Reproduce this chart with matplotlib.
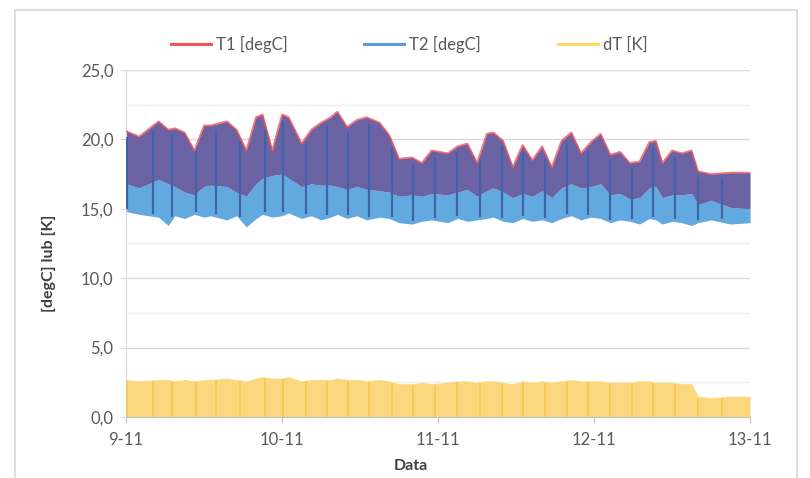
import matplotlib
matplotlib.use("Agg")
import matplotlib.pyplot as plt
from matplotlib.patches import Rectangle
from matplotlib.lines import Line2D
import numpy as np

plt.rcParams['font.family'] = ['Lato', 'DejaVu Sans']

# hours since 9-11 00:00
hours = [0, 2, 5, 6.5, 7.5, 9, 10.5, 12, 13, 15.5, 17, 18.5, 20, 21, 22.5, 24, 25, 27,
         28.5, 30, 31.5, 32.5, 34, 35.5, 37, 39, 40.5, 42, 44, 45.5, 47, 49.5, 51, 52.5,
         54, 55.5, 56.5, 58, 59.5, 61, 62.5, 64, 65.5, 67, 68.5, 70, 71.5, 73, 74.5, 76,
         77.5, 79, 80.5, 81.5, 82.5, 84, 85.5, 87, 88, 90, 93, 96]

# upper envelope of T1
t1_max = [20.6, 20.2, 21.3, 20.7, 20.8, 20.5, 19.2, 21.0, 21.0, 21.3, 20.7, 19.2, 21.6, 21.8,
          19.2, 21.8, 21.6, 19.7, 20.7, 21.2, 21.6, 22.0, 20.9, 21.4, 21.6, 21.2, 20.3, 18.6,
          18.7, 18.3, 19.2, 19.0, 19.5, 19.7, 18.3, 20.4, 20.5, 19.9, 18.0, 19.6, 18.5, 19.5,
          18.0, 19.9, 20.5, 19.0, 19.8, 20.4, 18.9, 19.1, 18.3, 18.4, 19.8, 19.9, 18.3, 19.2,
          19.0, 19.2, 17.7, 17.5, 17.6, 17.6]

# upper / lower envelope of T2
t2_max = [16.8, 16.5, 17.1, 16.8, 16.6, 16.2, 16.0, 16.6, 16.7, 16.6, 16.2, 15.9, 16.8, 17.2,
          17.4, 17.5, 17.2, 16.6, 16.8, 16.7, 16.7, 16.6, 16.4, 16.6, 16.4, 16.3, 16.2, 15.9,
          16.0, 15.9, 16.1, 16.0, 16.2, 16.4, 15.9, 16.3, 16.5, 16.2, 15.8, 16.1, 15.9, 16.3,
          15.8, 16.5, 16.8, 16.5, 16.6, 16.8, 16.0, 16.1, 15.7, 15.8, 16.5, 16.6, 15.8, 16.0,
          16.0, 16.1, 15.3, 15.6, 15.1, 15.0]
t2_min = [14.8, 14.6, 14.4, 13.8, 14.5, 14.3, 14.6, 14.4, 14.5, 14.2, 14.5, 13.7, 14.3, 14.6,
          14.4, 14.5, 14.7, 14.3, 14.5, 14.2, 14.4, 14.6, 14.3, 14.5, 14.2, 14.4, 14.3, 14.0,
          13.9, 14.1, 14.2, 14.0, 14.3, 14.1, 14.2, 14.3, 14.4, 14.1, 14.0, 14.3, 14.1, 14.2,
          14.0, 14.3, 14.5, 14.2, 14.4, 14.3, 14.0, 14.2, 14.1, 13.9, 14.3, 14.2, 13.9, 14.1,
          14.0, 13.8, 14.0, 14.2, 13.9, 14.0]

# upper envelope of dT
dt_max = [2.7, 2.6, 2.7, 2.7, 2.6, 2.7, 2.6, 2.7, 2.7, 2.8, 2.7, 2.6, 2.8, 2.9, 2.8, 2.8, 2.9,
          2.6, 2.7, 2.7, 2.7, 2.8, 2.7, 2.7, 2.6, 2.7, 2.6, 2.4, 2.4, 2.5, 2.4, 2.5, 2.6, 2.6,
          2.5, 2.6, 2.6, 2.5, 2.4, 2.6, 2.5, 2.6, 2.5, 2.6, 2.7, 2.6, 2.6, 2.6, 2.5, 2.5, 2.5,
          2.6, 2.6, 2.5, 2.5, 2.5, 2.4, 2.4, 1.5, 1.4, 1.5, 1.5]

# short drops (dark vertical streaks), hours
drops = [0.2, 4.2, 7.1, 10.8, 13.8, 17.5, 21.4, 24.2, 27.7, 30.9, 34.2, 37.4, 40.9, 44.2,
         47.5, 50.9, 54.4, 57.8, 61.1, 64.5, 67.8, 71.1, 74.5, 77.8, 81.1, 84.5, 88.0, 91.7]

day_ticks = [0, 24, 48, 72, 96]
day_labels = ['9-11', '10-11', '11-11', '12-11', '13-11']

c_t1 = '#f2535b'
c_t2 = '#62a9e0'
c_mid = '#6b62a3'
c_dt = '#fbd87e'

fig = plt.figure(figsize=(8.1, 4.78), dpi=100)
fig.patches.append(Rectangle((0.018, -0.1), 0.966, 1.08, transform=fig.transFigure,
                             fill=False, edgecolor='#d9d9d9', linewidth=1.2))
ax = fig.add_axes([0.1556, 0.1276, 0.7704, 0.726])

ax.fill_between(hours, t2_min, t2_max, color=c_t2, linewidth=0, zorder=2)
ax.fill_between(hours, t2_max, t1_max, color=c_mid, linewidth=0, zorder=2)
ax.plot(hours, t1_max, color=c_t1, linewidth=1.3, alpha=0.8, zorder=3)
ax.fill_between(hours, 0, dt_max, color=c_dt, linewidth=0, zorder=2)

lo = np.interp(drops, hours, t2_min)
hi = np.interp(drops, hours, t1_max)
ax.vlines(drops, lo + 0.2, hi - 0.4, color='#3f63a8', linewidth=1.6, zorder=4)
dhi = np.interp(drops, hours, dt_max)
ax.vlines(drops, 0, dhi - 0.1, color='#f3c94f', linewidth=1.2, zorder=4)

ax.set_xlim(0, 96)
ax.set_ylim(0, 25)
yt = np.arange(0, 26, 5)
ax.set_yticks(yt)
ax.set_yticklabels([('%.1f' % v).replace('.', ',') for v in yt])
ax.set_yticks(np.arange(2.5, 25, 5), minor=True)
ax.set_xticks(day_ticks)
ax.set_xticklabels(day_labels)

ax.grid(axis='y', which='major', color='#d9d9d9', linewidth=1, zorder=0)
ax.grid(axis='y', which='minor', color='#efefef', linewidth=1, zorder=0)
ax.set_axisbelow(True)
for s in ['top', 'right']:
    ax.spines[s].set_visible(False)
ax.spines['left'].set_color('#d9d9d9')
ax.spines['bottom'].set_color('#bfbfbf')
ax.tick_params(axis='both', which='major', colors='#595959', labelsize=12, length=4,
               width=0.8)
ax.tick_params(axis='x', which='major', color='#bfbfbf', pad=7)
ax.tick_params(axis='y', which='major', color='#d9d9d9', pad=5)
ax.tick_params(axis='y', which='minor', length=0)

ax.set_xlabel('Data', fontsize=11.5, fontweight='bold', color='#404040')
ax.xaxis.set_label_coords(0.457, -0.122)
ax.set_ylabel('[degC] lub [K]', fontsize=11.5, fontweight='bold', color='#404040')
ax.yaxis.set_label_coords(-0.112, 0.444)

handles = [Line2D([], [], color=c_t1, linewidth=2.2),
           Line2D([], [], color='#5b9bd5', linewidth=2.2),
           Line2D([], [], color='#ffd966', linewidth=2.2)]
fig.legend(handles, ['T1 [degC]', 'T2 [degC]', 'dT [K]'], loc='center',
           bbox_to_anchor=(0.505, 0.907), ncol=3, frameon=False, fontsize=12,
           handlelength=2.4, handletextpad=0.3, columnspacing=4.6, labelcolor='#595959')

fig.savefig('out.png', dpi=100)
